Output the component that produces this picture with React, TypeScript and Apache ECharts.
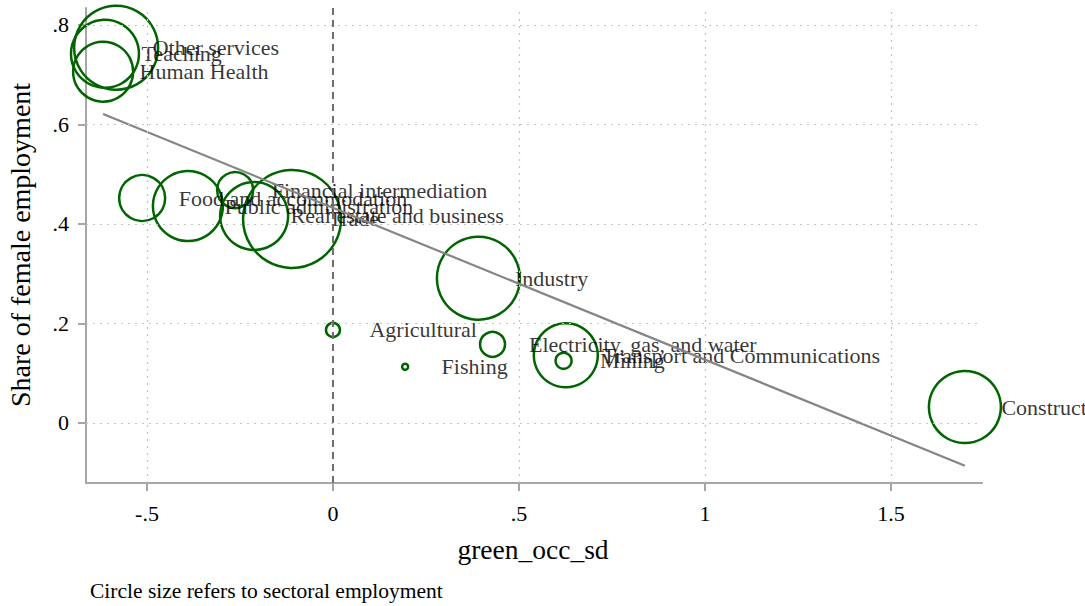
import React, { useEffect, useRef } from "react";
import * as echarts from "echarts";

const sectors = [
  "Other services",
  "Teaching",
  "Human Health",
  "Food and accommodation",
  "Public administration",
  "Financial intermediation",
  "Real estate and business",
  "Trade",
  "Industry",
  "Agricultural",
  "Fishing",
  "Electricity, gas, and water",
  "Transport and Communications",
  "Mining",
  "Construction",
];
const greenOccSd = [-0.583, -0.613, -0.618, -0.513, -0.39, -0.263, -0.212, -0.11, 0.391, 0.0, 0.194, 0.429, 0.626, 0.62, 1.699];
const femaleShare = [0.754, 0.742, 0.706, 0.452, 0.436, 0.468, 0.416, 0.41, 0.291, 0.187, 0.113, 0.158, 0.136, 0.125, 0.032];
const employment = [1764, 1156, 900, 529, 1225, 324, 1156, 2401, 1722, 49, 9, 156, 1024, 64, 1296];

const xTicks = [-0.5, 0, 0.5, 1, 1.5];
const yTicks = [0, 0.2, 0.4, 0.6, 0.8];
const fitX = [-0.618, 1.699];
const fitY = [0.621, -0.086];

const SERIF = "Liberation Serif";
const fmt = (v: number) => {
  const s = String(Math.round(v * 100) / 100);
  return s.replace(/^0\./, ".").replace(/^-0\./, "-.");
};

export default function App() {
  const ref = useRef<HTMLDivElement>(null);
  useEffect(() => {
    document.body.style.margin = "0";
    const chart = echarts.init(ref.current!, null, { renderer: "svg" });
    const pts = sectors.map((n, i) => [greenOccSd[i], femaleShare[i], employment[i], n]);
    const gridStyle = { color: "#c4c4c4", width: 1.2, type: [2, 5] as any };
    chart.setOption({
      animation: false,
      textStyle: { fontFamily: SERIF },
      grid: { left: 86, right: 103, top: 8, bottom: 123, containLabel: false },
      xAxis: {
        type: "value",
        min: -0.664,
        max: 1.745,
        axisLine: { show: true, onZero: false, lineStyle: { color: "#a6a6a6", width: 2 } },
        axisTick: { show: true, customValues: xTicks, length: 8, lineStyle: { color: "#a6a6a6", width: 2 } },
        axisLabel: { customValues: xTicks, formatter: fmt, fontFamily: SERIF, fontSize: 22, color: "#000", margin: 19 },
        splitLine: { show: false },
      },
      yAxis: {
        type: "value",
        min: -0.1206,
        max: 0.834,
        axisLine: { show: true, onZero: false, lineStyle: { color: "#a6a6a6", width: 2 } },
        axisTick: { show: true, customValues: yTicks, length: 8, lineStyle: { color: "#a6a6a6", width: 2 } },
        axisLabel: { customValues: yTicks, formatter: fmt, fontFamily: SERIF, fontSize: 22, color: "#000", margin: 17 },
        splitLine: { show: false },
      },
      series: [
        {
          type: "line",
          data: [],
          silent: true,
          markLine: {
            symbol: "none",
            silent: true,
            label: { show: false },
            lineStyle: gridStyle,
            data: [
              ...xTicks.filter((v) => v !== 0).map((v) => ({ xAxis: v })),
              ...yTicks.map((v) => ({ yAxis: v })),
            ],
          },
        },
        {
          type: "line",
          data: [],
          silent: true,
          markLine: {
            symbol: "none",
            silent: true,
            label: { show: false },
            lineStyle: { color: "#6e6e6e", width: 2, type: [7, 5] },
            data: [{ xAxis: 0 }],
          },
        },
        {
          type: "scatter",
          data: pts,
          clip: false,
          symbol: "circle",
          symbolSize: (v: any) => 2 * Math.sqrt(v[2]),
          itemStyle: { color: "transparent", borderColor: "#006400", borderWidth: 2.5, opacity: 1 },
        },
        {
          type: "line",
          data: fitX.map((x, i) => [x, fitY[i]]),
          showSymbol: false,
          lineStyle: { color: "#858585", width: 2.2 },
        },
        {
          type: "scatter",
          data: pts,
          clip: false,
          symbolSize: 1,
          itemStyle: { color: "transparent" },
          label: {
            show: true,
            position: "right",
            distance: 36,
            formatter: (p: any) => p.data[3],
            fontFamily: SERIF,
            fontSize: 22,
            color: "#000",
          },
        },
      ],
      graphic: [
        {
          type: "text",
          x: 20,
          y: 245,
          rotation: Math.PI / 2,
          style: {
            text: "Share of female employment",
            fontFamily: SERIF,
            fontSize: 28,
            fill: "#000",
            align: "center",
            verticalAlign: "middle",
          },
        },
        {
          type: "text",
          x: 533,
          y: 549,
          style: {
            text: "green_occ_sd",
            fontFamily: SERIF,
            fontSize: 27.5,
            fill: "#000",
            align: "center",
            verticalAlign: "middle",
          },
        },
        {
          type: "text",
          x: 90,
          y: 591,
          style: {
            text: "Circle size refers to sectoral employment",
            fontFamily: SERIF,
            fontSize: 21.5,
            fill: "#000",
            align: "left",
            verticalAlign: "middle",
          },
        },
      ],
    });
    return () => chart.dispose();
  }, []);
  return <div ref={ref} style={{ width: 1085, height: 606 }} />;
}
